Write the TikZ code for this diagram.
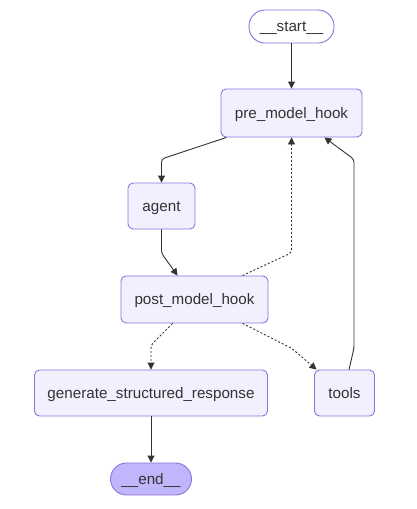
\documentclass[tikz,border=0pt]{standalone}
\usepackage{fontspec}
\setmainfont{Liberation Sans}
\usetikzlibrary{arrows.meta,calc}
\definecolor{nodefill}{HTML}{F2F0FF}
\definecolor{nodeline}{HTML}{9370DB}
\definecolor{endfill}{HTML}{BFB6FC}
\definecolor{edgecol}{HTML}{333333}
\tikzset{
  box/.style={draw=nodeline, fill=nodefill, line width=0.9pt, rounded corners=5pt, inner sep=0pt,
    text=edgecol, font=\fontsize{15.2}{18}\selectfont, text height=10.4pt, text depth=0pt},
  term/.style={box, rounded corners=16pt},
  edge/.style={draw=edgecol, line width=0.9pt, -{Triangle[length=7pt,width=7pt]}, rounded corners=3pt},
  dotedge/.style={edge, dash pattern=on 2pt off 2pt}
}
\begin{document}
\begin{tikzpicture}[x=1pt,y=-1pt]
\useasboundingbox[fill=white] (0,0) rectangle (417,509);
\node[term, fill=white, minimum width=85pt, minimum height=33pt] (start) at (291.5,26.5) {\_\_start\_\_};
\node[box, minimum width=141pt, minimum height=48pt] (pre) at (291.5,113) {pre\_model\_hook};
\node[box, minimum width=67pt, minimum height=46pt] (agent) at (161.5,206) {agent};
\node[box, minimum width=147pt, minimum height=47pt] (post) at (194.5,299.5) {post\_model\_hook};
\node[box, minimum width=233pt, minimum height=46pt] (gen) at (151,393) {generate\_structured\_response};
\node[box, minimum width=60pt, minimum height=46pt] (tools) at (344.5,393) {tools};
\node[term, fill=endfill, minimum width=81pt, minimum height=32pt] (end) at (151,479) {\_\_end\_\_};
\coordinate (b1) at (161.5,159);
\coordinate (b2) at (161.5,253.3);
\coordinate (b3) at (291.5,252.7);
\coordinate (b4) at (354,348);
\coordinate (b5) at (354,159.3);
\coordinate (b6) at (151,345);
\coordinate (b7) at (291.7,348.3);
\draw[edge] (start.south) -- (pre.north);
\draw[edge] ($(pre.south west)+(6,0)$) -- (b1) -- (agent.north);
\draw[edge] (agent.south) -- (b2) -- ($(post.north west)+(57,0)$);
\draw[dotedge] ($(post.north west)+(122,0)$) -- (b3) -- (pre.south);
\draw[edge] ($(tools.north west)+(35,0)$) -- (b4) -- (b5) -- ($(pre.south east)+(-38,0)$);
\draw[dotedge] ($(post.south west)+(52,0)$) -- (b6) -- (gen.north);
\draw[dotedge] ($(post.south west)+(122,0)$) -- (b7) -- ($(tools.north west)+(2.5,0)$);
\draw[edge] (gen.south) -- (end.north);
\end{tikzpicture}
\end{document}
